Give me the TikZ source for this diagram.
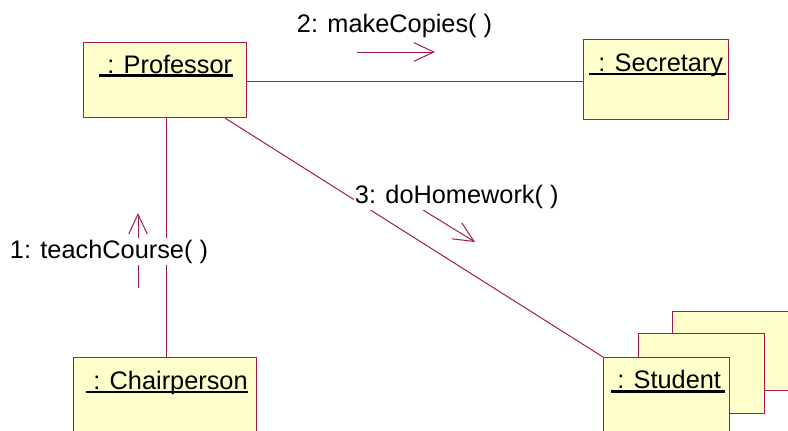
\documentclass[tikz,border=0pt]{standalone}
\usepackage{fontspec}
\setmainfont{Liberation Sans}
\usetikzlibrary{arrows.meta}
\definecolor{umlline}{RGB}{165,25,75}
\definecolor{umlfill}{RGB}{255,255,204}

\tikzset{
  objbox/.style={draw=umlline, fill=umlfill, line width=0.9pt, anchor=north west, inner sep=0pt},
  objname/.style={anchor=base west, inner sep=0pt, font=\fontsize{19pt}{23pt}\selectfont},
  nameline/.style={line width=1.6pt, black},
  link/.style={draw=umlline, line width=0.75pt},
  msgarrow/.style={draw=umlline, line width=0.75pt, -{Straight Barb[length=15pt,width=14pt]}},
  msglabel/.style={fill=white, anchor=base west, inner xsep=0.5pt, inner ysep=1.5pt, font=\fontsize{19pt}{23pt}\selectfont}
}

\begin{document}
\begin{tikzpicture}[x=0.75pt,y=-0.75pt]
\useasboundingbox (0,0) rectangle (788,430);

% object boxes
\node[objbox, minimum width=122.25pt, minimum height=56.25pt] (professor) at (83,42) {};
\node[objbox, minimum width=108.75pt, minimum height=60pt] (secretary) at (583,39) {};
\node[objbox, minimum width=137.25pt, minimum height=75pt] (chair) at (73,357) {};
% multi-object stack for the students
\node[objbox, minimum width=94.5pt, minimum height=59.25pt] (student3) at (672,311) {};
\node[objbox, minimum width=94.5pt, minimum height=60pt] (student2) at (638,333) {};
\node[objbox, minimum width=94.5pt, minimum height=75pt] (student) at (603,357) {};

% object names
\node[objname] (profname) at (107,73) {: Professor};
\draw[nameline] (99,75.5) -- (233,75.5);
\node[objname] (secname) at (598,71) {: Secretary};
\draw[nameline] (589,74) -- (726,74);
\node[objname] (chairname) at (93,389) {: Chairperson};
\draw[nameline] (86,392) -- (248,392);
\node[objname] (studname) at (617,388) {: Student};
\draw[nameline] (611,391.5) -- (725,391.5);

% links
\draw[link] ([yshift=-1.2pt]professor.east) -- ([yshift=-1.2pt]professor.east -| secretary.west);
\draw[link] ([xshift=1pt]professor.south) -- ([xshift=1pt]chair.north);
\draw[link] (professor) -- (student.north west);

% message arrows
\coordinate (m1s) at (138,288);
\coordinate (m1e) at (138,213);
\coordinate (m2s) at (357,52);
\coordinate (m2e) at (435,52);
\coordinate (m3s) at (423,210);
\coordinate (m3e) at (475,242);
\draw[msgarrow] (m1s) -- (m1e);
\draw[msgarrow] (m2s) -- (m2e);
\draw[msgarrow] (m3s) -- (m3e);

% message labels
\node[msglabel] (lab1) at (9,258) {1: teachCourse( )};
\node[msglabel] (lab2) at (296,32) {2: makeCopies( )};
\node[msglabel] (lab3) at (354,203) {3: doHomework( )};
\end{tikzpicture}
\end{document}
